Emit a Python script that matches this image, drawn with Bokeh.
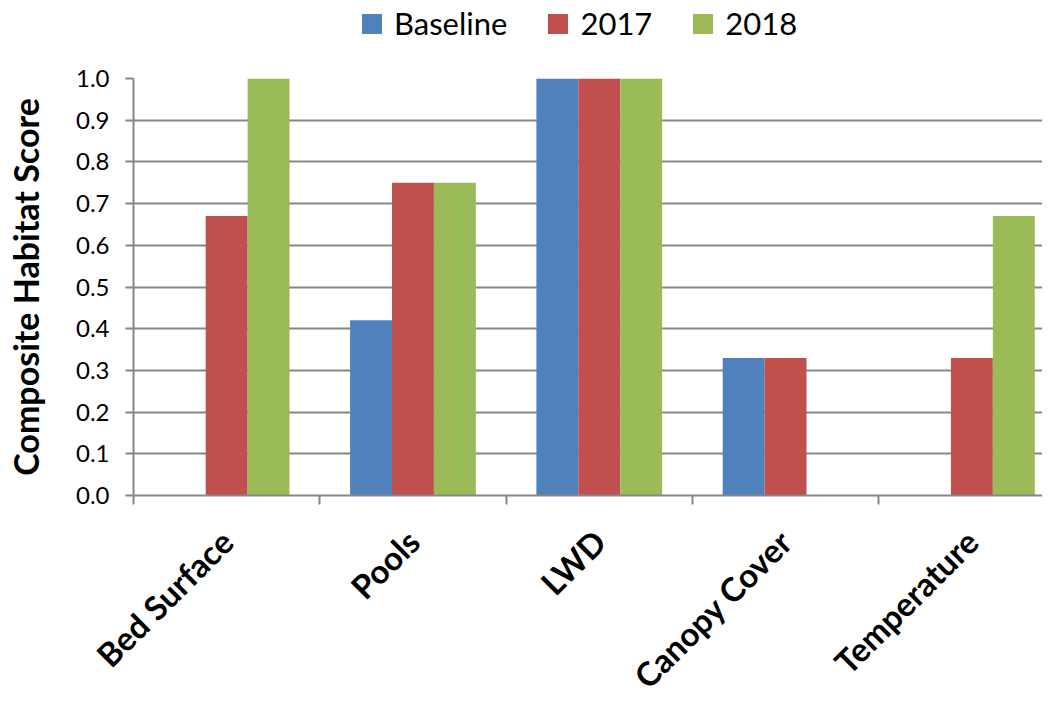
import numpy as np
from math import pi
from bokeh.plotting import figure
from bokeh.layouts import column
from bokeh.models import (Range1d, FixedTicker, Legend, LegendItem, NumeralTickFormatter)
from bokeh.embed import file_html
from bokeh.resources import INLINE

categories = ["Bed Surface", "Pools", "LWD", "Canopy Cover", "Temperature"]
series_names = ["Baseline", "2017", "2018"]
baseline = [0.0, 0.42, 1.0, 0.33, 0.0]
y2017 = [0.67, 0.75, 1.0, 0.33, 0.33]
y2018 = [1.0, 0.75, 1.0, 0.0, 0.67]
y_ticks = [0.0, 0.1, 0.2, 0.3, 0.4, 0.5, 0.6, 0.7, 0.8, 0.9, 1.0]

colors = ["#4F81BD", "#C0504D", "#9BBB59"]
FONT = "Lato"
GRAY = "#878787"

n = len(categories)
centers = np.arange(n) + 0.5
bar_w = 0.225
series = [baseline, y2017, y2018]

# ---------- legend strip (separate figure above the chart) ----------
LEG_H = 46
lf = figure(width=1042, height=LEG_H, output_backend="svg", toolbar_location=None,
            x_range=Range1d(0, 4.879), y_range=Range1d(5, 6),
            x_axis_location=None, y_axis_location=None)
lf.min_border = 0
lf.outline_line_color = None
lf.xgrid.grid_line_color = None
lf.ygrid.grid_line_color = None
# same series, drawn outside this strip's visible range: only their legend swatches show
leg_renderers = [lf.vbar(x=centers + (i - 1) * bar_w, top=vals, bottom=0, width=bar_w,
                         fill_color=c, line_color=None)
                 for i, (vals, c) in enumerate(zip(series, colors))]
legend = Legend(items=[LegendItem(label=s, renderers=[r]) for s, r in zip(series_names, leg_renderers)],
                orientation="horizontal", location=(226, 4))
legend.label_text_font = FONT
legend.label_text_font_size = "31px"
legend.label_text_color = "black"
legend.glyph_width = 25
legend.glyph_height = 25
legend.spacing = 38
legend.label_standoff = 10
legend.padding = 4
legend.margin = 0
legend.border_line_color = None
legend.background_fill_alpha = 0
lf.add_layout(legend, "center")

# ---------- main chart ----------
p = figure(width=1042, height=695 - LEG_H, output_backend="svg", toolbar_location=None,
           x_range=Range1d(0, 4.879), y_range=Range1d(0, 1.0))
p.min_border_left = 133
p.min_border_right = 0
p.min_border_top = 78 - LEG_H
p.min_border_bottom = 199
p.outline_line_color = None
p.background_fill_color = "white"
p.border_fill_color = "white"

for i, (vals, col) in enumerate(zip(series, colors)):
    p.vbar(x=centers + (i - 1) * bar_w, top=vals, bottom=0, width=bar_w,
           fill_color=col, line_color=None)

# x axis: labels at category centres, tick marks at category boundaries
xa = p.xaxis[0]
xa.ticker = FixedTicker(ticks=list(centers), minor_ticks=list(range(n + 1)))
xa.major_label_overrides = {float(c): cat for c, cat in zip(centers, categories)}
xa.major_label_orientation = pi / 4
xa.major_tick_out = 0
xa.major_tick_in = 0
xa.minor_tick_out = 9
xa.minor_tick_in = 0
xa.minor_tick_line_color = GRAY
xa.minor_tick_line_width = 2
xa.axis_line_color = GRAY
xa.axis_line_width = 2
xa.major_label_text_font = FONT
xa.major_label_text_font_style = "bold"
xa.major_label_text_font_size = "33px"
xa.major_label_text_color = "black"
xa.major_label_standoff = 31
xa.axis_label = " "
xa.axis_label_text_font_size = "1px"
xa.axis_label_standoff = -21

ya = p.yaxis[0]
ya.ticker = FixedTicker(ticks=y_ticks)
ya.formatter = NumeralTickFormatter(format="0.0")
ya.minor_tick_line_color = None
ya.major_tick_out = 8
ya.major_tick_in = 0
ya.major_tick_line_color = GRAY
ya.major_tick_line_width = 2
ya.axis_line_color = GRAY
ya.axis_line_width = 2
ya.major_label_text_font = FONT
ya.major_label_text_font_size = "24px"
ya.major_label_text_color = "black"
ya.major_label_standoff = 16
ya.axis_label = "Composite Habitat Score"
ya.axis_label_text_font = FONT
ya.axis_label_text_font_style = "bold"
ya.axis_label_text_font_size = "34px"
ya.axis_label_text_color = "black"
ya.axis_label_standoff = 27

p.xgrid.grid_line_color = None
p.ygrid.ticker = FixedTicker(ticks=y_ticks)
p.ygrid.grid_line_color = GRAY
p.ygrid.grid_line_width = 2
p.ygrid.level = "underlay"

layout = column(lf, p, spacing=0)
open("out.html", "w").write(file_html(layout, INLINE))
